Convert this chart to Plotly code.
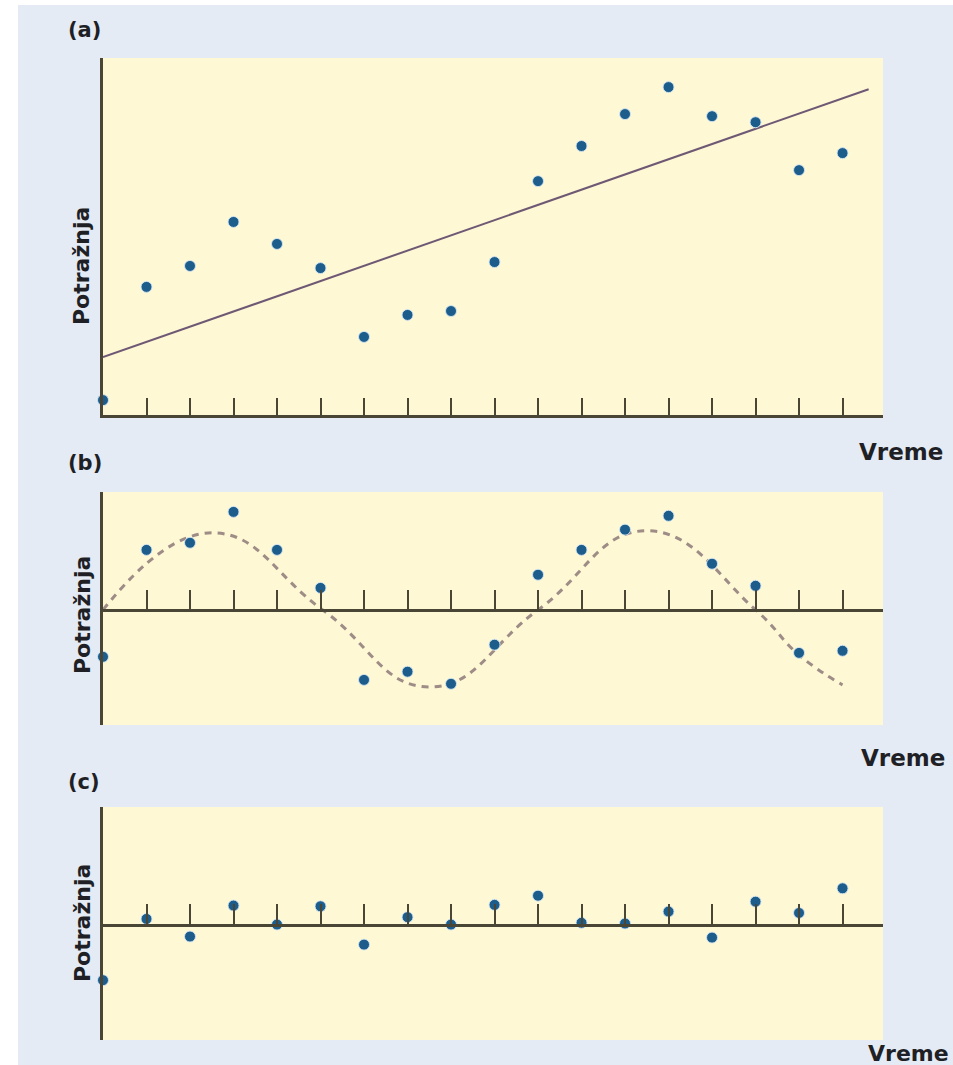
import plotly.graph_objects as go

# ---------------- data ----------------
periods = list(range(18))  # time index 0..17

# (a) demand with trend
demand_a = [4.2, 36.1, 42.0, 54.4, 48.2, 41.4, 22.0, 28.2, 29.3, 43.1,
            65.9, 75.8, 84.8, 92.4, 84.2, 82.5, 69.0, 73.8]
trend_x = [0, 17.6]
trend_y = [16.3, 91.8]

# (b) seasonal component (detrended)
demand_b = [-13.2, 16.9, 18.9, 27.6, 16.9, 6.2, -19.7, -17.4, -20.8, -9.8,
            9.9, 16.9, 22.6, 26.5, 13.0, 6.8, -12.1, -11.5]
season_x = [0, 2.5, 5.05, 7.5, 10.0, 12.5, 15.0, 16.0, 17.0]
season_y = [0, 21.7, 0, -21.7, 0, 22.3, 0, -12.7, -21.1]

# (c) irregular component (residuals)
demand_c = [-16.0, 1.4, -3.6, 5.2, -0.2, 5.0, -5.9, 1.9, -0.2, 5.4,
            8.0, 0.3, 0.1, 3.5, -3.9, 6.3, 3.1, 10.1]

panel_labels = ["(a)", "(b)", "(c)"]
y_title = "Potražnja"
x_title = "Vreme"

# ---------------- styling ----------------
W, H = 953, 1065
def fx(px):
    return px / W
def fy(py):
    return 1 - py / H

BLUE_BG = "#e4ebf4"
YELLOW = "#fef8d5"
AXIS_C = "#4a4636"
MARKER_C = "#1c5d8c"
TREND_C = "#6e5874"
DASH_C = "#9e8c86"
TEXT_C = "#1f1f26"
FONT = "DejaVu Sans"

x_dom = [fx(103), fx(883)]
x_range = [0, 17.93]

marker = dict(color=MARKER_C, size=11,
              line=dict(color="rgba(215,232,244,0.9)", width=1))

fig = go.Figure()

# (a)
fig.add_trace(go.Scatter(x=trend_x, y=trend_y, mode="lines",
                         line=dict(color=TREND_C, width=2),
                         xaxis="x", yaxis="y", showlegend=False))
fig.add_trace(go.Scatter(x=periods, y=demand_a, mode="markers", marker=marker,
                         cliponaxis=False, xaxis="x", yaxis="y", showlegend=False))
# (b)
fig.add_trace(go.Scatter(x=season_x, y=season_y, mode="lines",
                         line=dict(color=DASH_C, width=3, dash="7px,6px",
                                   shape="spline", smoothing=1.3),
                         xaxis="x2", yaxis="y2", showlegend=False))
fig.add_trace(go.Scatter(x=periods, y=demand_b, mode="markers", marker=marker,
                         cliponaxis=False, xaxis="x2", yaxis="y2", showlegend=False))
# (c)
fig.add_trace(go.Scatter(x=periods, y=demand_c, mode="markers", marker=marker,
                         cliponaxis=False, xaxis="x3", yaxis="y3", showlegend=False))

tickpos = periods[1:]

def xaxis_cfg(ticklen, **kw):
    d = dict(domain=x_dom, range=x_range, showgrid=False, zeroline=False,
             showline=True, linecolor=AXIS_C, linewidth=2.5,
             ticks="inside", tickmode="array", tickvals=tickpos,
             ticklen=ticklen, tickwidth=2, tickcolor=AXIS_C,
             showticklabels=False, fixedrange=True)
    d.update(kw)
    return d

def yaxis_cfg(dom, rng, **kw):
    d = dict(domain=dom, range=rng, showgrid=False, zeroline=False,
             showline=True, linecolor=AXIS_C, linewidth=2.5,
             ticks="", showticklabels=False, fixedrange=True)
    d.update(kw)
    return d

# panel geometry (pixel rows of the plot areas and zero lines)
a_top, a_bot = 58, 415
b_top, b_bot, b_zero = 492, 725, 610
c_top, c_bot, c_zero = 807, 1040, 925

fig.update_layout(
    width=W, height=H,
    margin=dict(l=0, r=0, t=0, b=0),
    paper_bgcolor=BLUE_BG,
    plot_bgcolor=YELLOW,
    showlegend=False,
    xaxis=xaxis_cfg(17, anchor="y"),
    yaxis=yaxis_cfg([fy(a_bot), fy(a_top)], [0, 100.6], anchor="x"),
    xaxis2=xaxis_cfg(19, anchor="free", position=fy(b_zero)),
    yaxis2=yaxis_cfg([fy(b_bot), fy(b_top)], [-32.4, 33.2], anchor="x2"),
    xaxis3=xaxis_cfg(20, anchor="free", position=fy(c_zero)),
    yaxis3=yaxis_cfg([fy(c_bot), fy(c_top)], [-33.0, 33.2], anchor="x3"),
)

# white page border strips (left and top)
fig.add_shape(type="rect", xref="paper", yref="paper",
              x0=0, x1=fx(18), y0=0, y1=1,
              fillcolor="white", line=dict(width=0), layer="below")
fig.add_shape(type="rect", xref="paper", yref="paper",
              x0=0, x1=1, y0=fy(5), y1=1,
              fillcolor="white", line=dict(width=0), layer="below")

annos = []
label_rows = [30, 463, 782]
for lab, row in zip(panel_labels, label_rows):
    annos.append(dict(text=f"<b>{lab}</b>", x=fx(66), y=fy(row), xref="paper", yref="paper",
                      xanchor="left", yanchor="middle", showarrow=False,
                      font=dict(family=FONT, size=21, color=TEXT_C)))
for row in [266, 615, 923]:
    annos.append(dict(text=f"<b>{y_title}</b>", x=fx(82), y=fy(row), xref="paper", yref="paper",
                      xanchor="center", yanchor="middle", textangle=-90, showarrow=False,
                      font=dict(family=FONT, size=22, color=TEXT_C)))
for xl, row in [(857, 452), (859, 758)]:
    annos.append(dict(text=f"<b>{x_title}</b>", x=fx(xl), y=fy(row), xref="paper", yref="paper",
                      xanchor="left", yanchor="middle", showarrow=False,
                      font=dict(family=FONT, size=23, color=TEXT_C)))
annos.append(dict(text=f"<b>{x_title}</b>", x=fx(951), y=fy(1053), xref="paper", yref="paper",
                  xanchor="right", yanchor="middle", showarrow=False,
                  font=dict(family=FONT, size=22, color=TEXT_C)))
fig.update_layout(annotations=annos)

fig.write_html("out.html", config={"displayModeBar": False},
               post_script="document.body.style.margin='0';document.body.style.overflow='hidden';")
